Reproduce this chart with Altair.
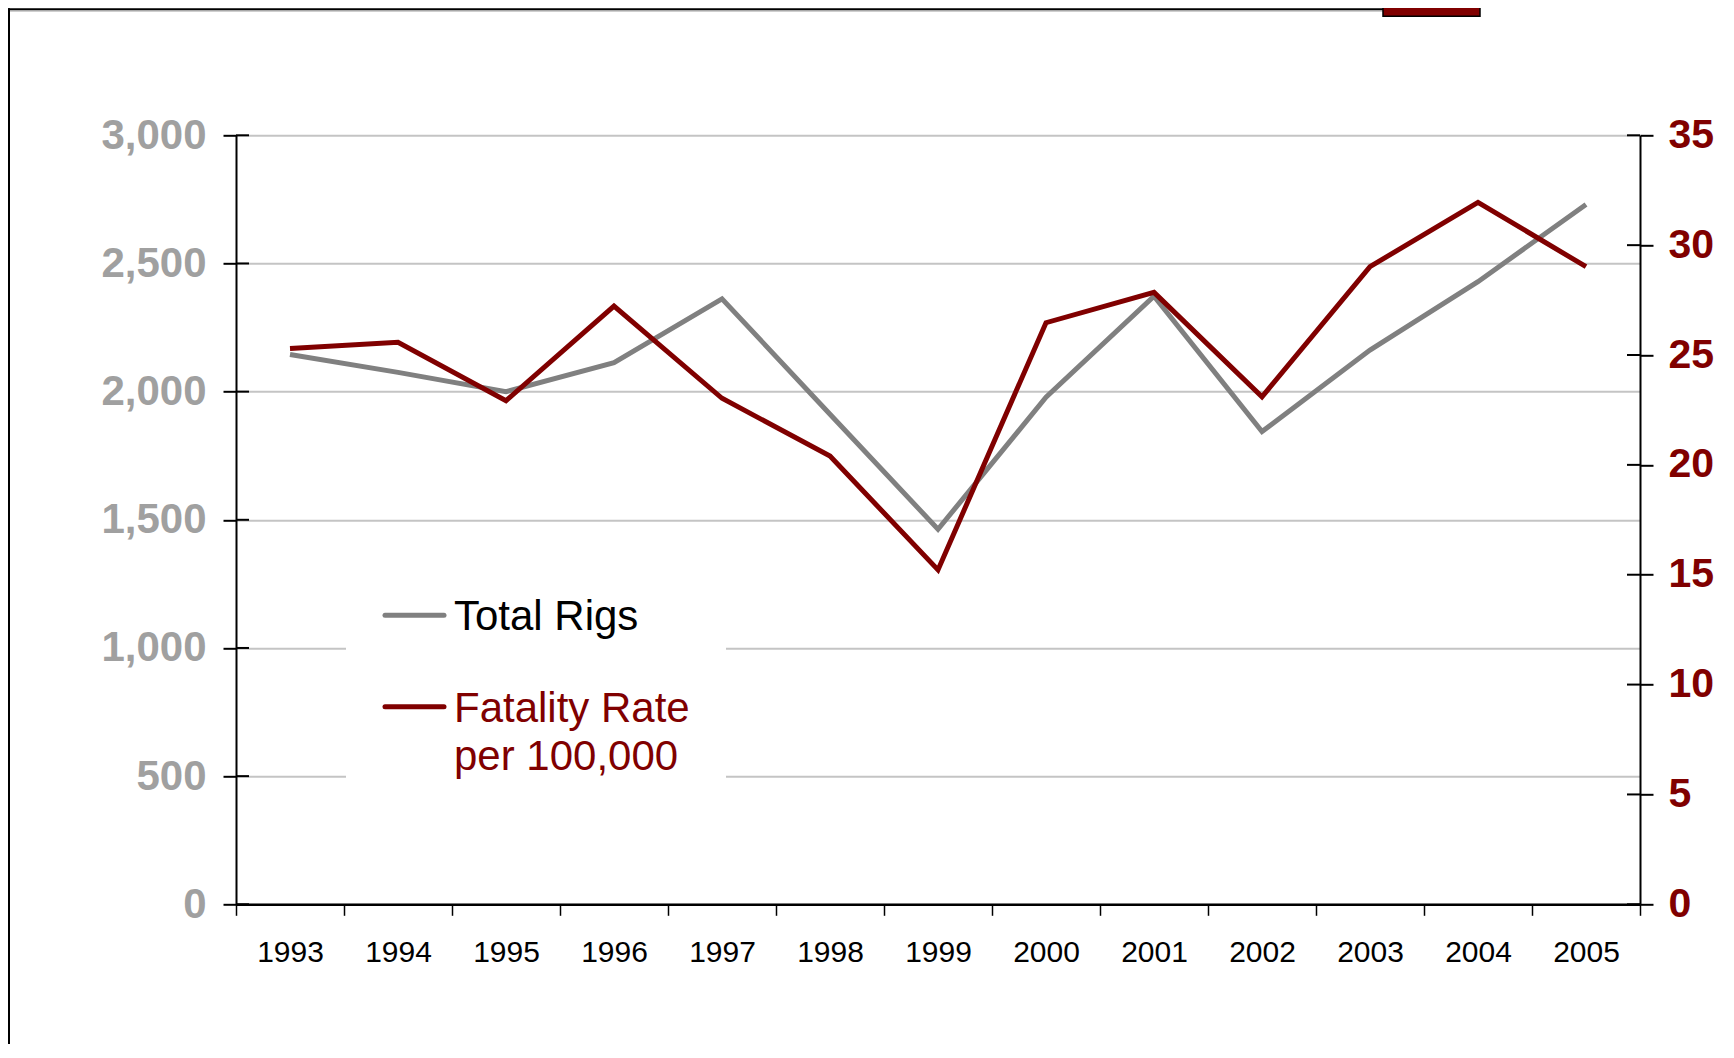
import altair as alt
import pandas as pd

# ---- data ----
years = [str(y) for y in range(1993, 2006)]
total_rigs = [2145, 2075, 2000, 2113, 2362, 1912, 1463, 1978, 2372, 1844, 2162, 2429, 2730]
fatality_rate = [25.30, 25.58, 22.92, 27.23, 23.03, 20.40, 15.22, 26.47, 27.85, 23.10, 29.02, 31.95, 29.02]
left_ticks = [0, 500, 1000, 1500, 2000, 2500, 3000]
right_ticks = [0, 5, 10, 15, 20, 25, 30, 35]
legend_rigs = "Total Rigs"
legend_rate_1 = "Fatality Rate"
legend_rate_2 = "per 100,000"

# ---- styling ----
W, H = 1404, 769
FONT = "Liberation Sans"
GRAY_LINE = "#808080"
RED = "#800000"
LABEL_GRAY = "#a0a0a0"
GRID = "#c4c4c4"

df = pd.DataFrame({"Year": years, "Total Rigs": total_rigs, "Fatality Rate": fatality_rate})
left_df = pd.DataFrame({"v": left_ticks})
right_df = pd.DataFrame({"v": right_ticks})
one = pd.DataFrame({"d": [0]})

x_enc = alt.X(
    "Year:O",
    scale=alt.Scale(type="band", paddingInner=0, paddingOuter=0),
    bandPosition=0.5,
    axis=alt.Axis(
        title=None, labelAngle=0, tickBand="extent", grid=False,
        domainColor="black", domainWidth=2.5, tickColor="black", tickWidth=1.5,
        tickSize=11, labelFont=FONT, labelFontSize=30, labelColor="black",
        labelPadding=22,
    ),
)

yl_scale = alt.Scale(domain=[0, 3000], nice=False, zero=True)
yr_scale = alt.Scale(domain=[0, 35], nice=False, zero=True)

yl_axis = alt.Axis(
    title=None, orient="left", values=left_ticks, format=",.0f", grid=True,
    gridColor=GRID, gridWidth=2, domainColor="black", domainWidth=2,
    tickColor="black", tickWidth=2, tickSize=13, labelFont=FONT,
    labelFontSize=42, labelFontWeight="bold", labelColor=LABEL_GRAY,
    labelPadding=17, labelOverlap=False,
)
yr_axis = alt.Axis(
    title=None, orient="right", values=right_ticks, format=".0f", grid=False,
    domainColor="black", domainWidth=2, tickColor="black", tickWidth=2,
    tickSize=13, labelFont=FONT, labelFontSize=41, labelFontWeight="bold",
    labelColor=RED, labelPadding=15, labelOverlap=False,
)

gray_line = alt.Chart(df).mark_line(color=GRAY_LINE, strokeWidth=5).encode(
    x=x_enc, y=alt.Y("Total Rigs:Q", scale=yl_scale, axis=yl_axis)
)
left_inner = alt.Chart(left_df).mark_rule(color="black", strokeWidth=2).encode(
    y=alt.Y("v:Q", scale=yl_scale, axis=yl_axis), x=alt.value(0), x2=alt.value(13)
)
left_group = alt.layer(gray_line, left_inner)

red_line = alt.Chart(df).mark_line(color=RED, strokeWidth=5).encode(
    x=x_enc, y=alt.Y("Fatality Rate:Q", scale=yr_scale, axis=yr_axis)
)
right_inner = alt.Chart(right_df).mark_rule(color="black", strokeWidth=2).encode(
    y=alt.Y("v:Q", scale=yr_scale, axis=yr_axis), x=alt.value(W - 13), x2=alt.value(W)
)
right_group = alt.layer(red_line, right_inner)

# ---- legend (drawn as annotations) ----
box = alt.Chart(one).mark_rect(color="white").encode(
    x=alt.value(110), x2=alt.value(490), y=alt.value(440), y2=alt.value(690)
)
leg_gray = alt.Chart(one).mark_rule(color=GRAY_LINE, strokeWidth=5, strokeCap="round").encode(
    x=alt.value(149), x2=alt.value(208), y=alt.value(480)
)
leg_red = alt.Chart(one).mark_rule(color=RED, strokeWidth=5, strokeCap="round").encode(
    x=alt.value(149), x2=alt.value(208), y=alt.value(571.5)
)
txt_kw = dict(font=FONT, fontSize=42, align="left", baseline="middle")
t_rigs = alt.Chart(one).mark_text(text=legend_rigs, color="black", **txt_kw).encode(
    x=alt.value(218), y=alt.value(482)
)
t_rate1 = alt.Chart(one).mark_text(text=legend_rate_1, color=RED, **txt_kw).encode(
    x=alt.value(218), y=alt.value(574)
)
t_rate2 = alt.Chart(one).mark_text(text=legend_rate_2, color=RED, **txt_kw).encode(
    x=alt.value(218), y=alt.value(622)
)
legend_group = alt.layer(box, leg_gray, leg_red, t_rigs, t_rate1, t_rate2)

# ---- slide frame decorations ----
frame_left = alt.Chart(one).mark_rule(color="black", strokeWidth=2).encode(
    x=alt.value(-227), y=alt.value(-127), y2=alt.value(H + 140)
)
frame_top = alt.Chart(one).mark_rule(color="black", strokeWidth=2).encode(
    x=alt.value(-228), x2=alt.value(1147), y=alt.value(-126)
)
frame_top2 = alt.Chart(one).mark_rule(color="#a0a0a0", strokeWidth=1.2).encode(
    x=alt.value(-226), x2=alt.value(1147), y=alt.value(-124.5)
)
red_tab = alt.Chart(one).mark_rect(color=RED, stroke="black", strokeWidth=1.5).encode(
    x=alt.value(1147), x2=alt.value(1244), y=alt.value(-130), y2=alt.value(-119)
)
frame_group = alt.layer(frame_left, frame_top, frame_top2, red_tab)

chart = (
    alt.layer(left_group, right_group, legend_group, frame_group)
    .resolve_scale(y="independent")
    .resolve_axis(y="independent")
    .properties(
        width=W,
        height=H,
        autosize=alt.AutoSizeParams(type="none"),
        padding={"left": 228, "top": 127.3, "right": 80, "bottom": 140},
        background="white",
    )
    .configure_view(strokeWidth=0)
)

chart.save("out.html", embed_options={"renderer": "svg", "actions": False})
